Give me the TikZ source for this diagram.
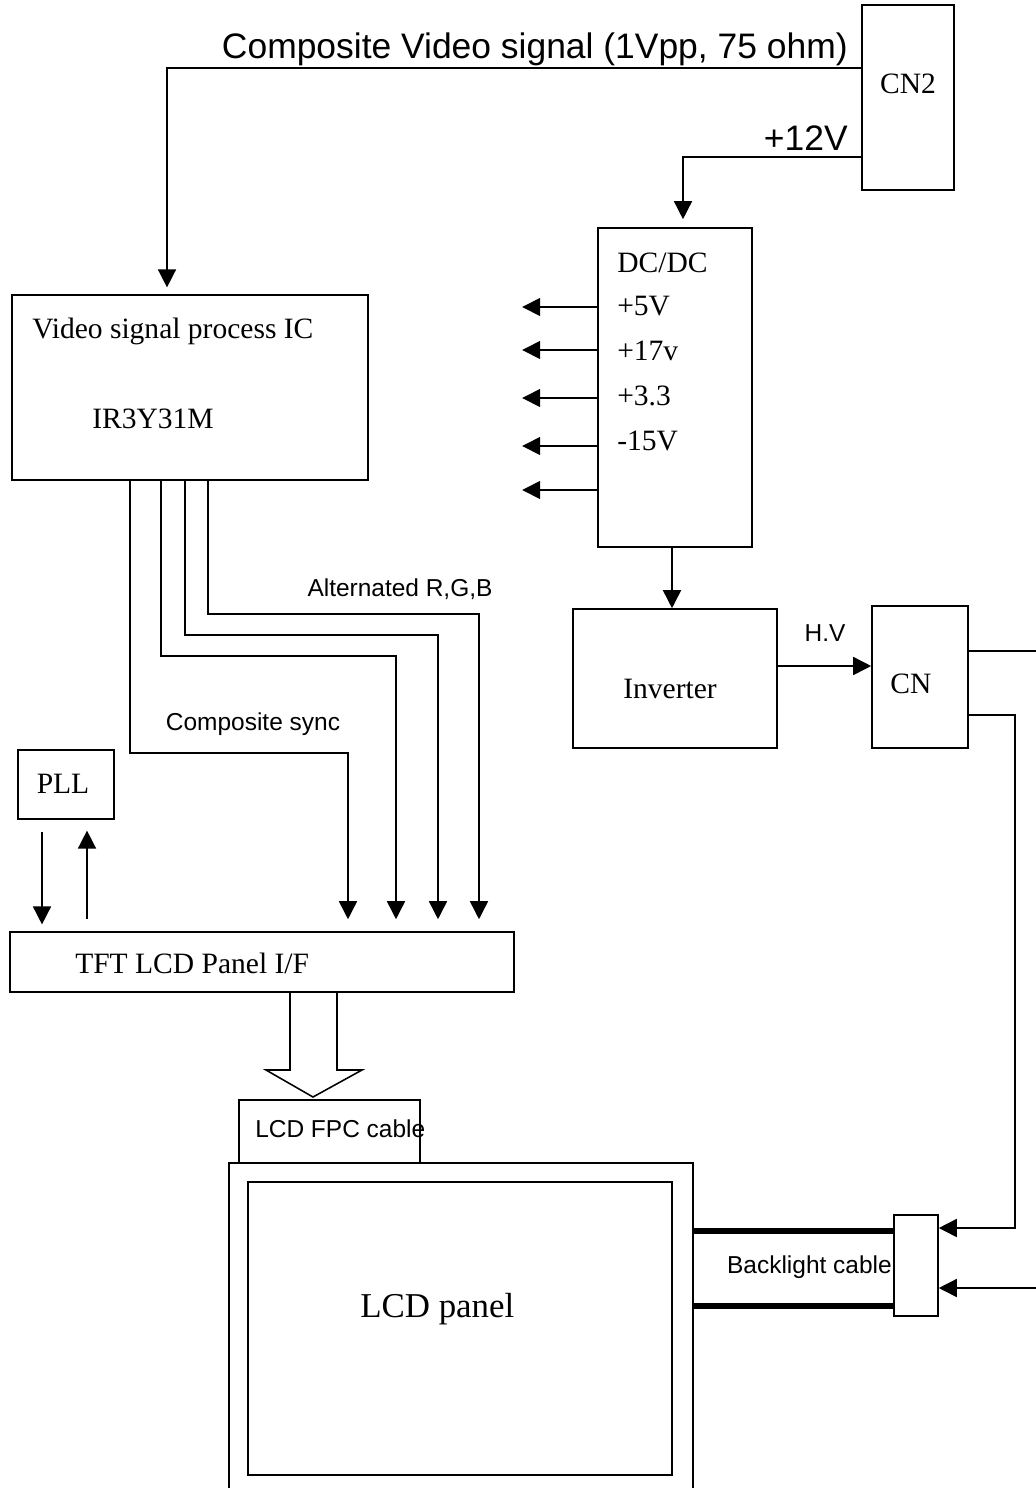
\documentclass[tikz,border=0pt]{standalone}
\usepackage{fontspec}
\setmainfont{Liberation Serif}
\setsansfont{Liberation Sans}
\usepackage{tikz}
\usetikzlibrary{arrows.meta, positioning, calc}
\tikzset{
	blk/.style   ={rectangle, draw=black, line width=1.1pt, inner sep=0pt},
	sig/.style   ={-{Triangle[length=0.45cm, width=0.45cm]}, line width=1.1pt},
	wire/.style  ={line width=1.1pt},
	cable/.style ={line width=3.6pt},
	rmtxt/.style ={font=\fontsize{21}{25}\selectfont, inner sep=0pt},
	bigtxt/.style={font=\fontsize{24.8}{29}\selectfont, inner sep=0pt},
	sftxt/.style ={font=\sffamily\fontsize{17.4}{20}\selectfont, inner sep=0pt},
	hdtxt/.style ={font=\sffamily\fontsize{25.2}{30}\selectfont, inner sep=0pt},
}

\begin{document}
\begin{tikzpicture}[x=0.025cm, y=-0.025cm]
	\useasboundingbox (0,0) rectangle (1036,1488);
	% ---- blocks ----
	\node[blk, minimum width=2.3cm, minimum height=4.625cm] (cn2) at (908,97.5) {};
	\node[blk, minimum width=8.9cm, minimum height=4.625cm] (vic) at (190,387.5) {};
	\node[blk, minimum width=3.85cm, minimum height=7.975cm] (dcdc) at (675,387.5) {};
	\node[blk, minimum width=5.1cm, minimum height=3.475cm] (inv) at (675,678.5) {};
	\node[blk, minimum width=2.4cm, minimum height=3.55cm] (cn) at (920,677) {};
	\node[blk, minimum width=2.4cm, minimum height=1.725cm] (pll) at (66,784.5) {};
	\node[blk, minimum width=12.6cm, minimum height=1.5cm] (tft) at (262,962) {};
	\node[blk, minimum width=4.525cm, minimum height=1.575cm] (fpc) at (329.5,1131.5) {};
	\node[blk, minimum width=11.6cm, minimum height=8.425cm] (lcdo) at (461,1331.5) {};
	\node[blk, minimum width=10.6cm, minimum height=7.325cm] (lcdi) at (460,1328.5) {};
	\node[blk, minimum width=1.1cm, minimum height=2.525cm] (blc) at (916,1265.5) {};
	% ---- block texts ----
	\node[rmtxt, anchor=base] (cn2txt) at (908,93) {CN2};
	\node[rmtxt, anchor=base west] (victxt) at (32,338) {Video signal process IC};
	\node[rmtxt, anchor=base west] (icname) at (92,428) {IR3Y31M};
	\node[rmtxt, anchor=base west] (dctxt) at (617,272) {DC/DC};
	\node[rmtxt, anchor=base west] (v5) at (617,315) {+5V};
	\node[rmtxt, anchor=base west] (v17) at (617,360) {+17v};
	\node[rmtxt, anchor=base west] (v33) at (617,405) {+3.3};
	\node[rmtxt, anchor=base west] (vm15) at (617,450) {-15V};
	\node[rmtxt, anchor=base] (invtxt) at (670,698) {Inverter};
	\node[rmtxt, anchor=base] (cntxt) at (911,693) {CN};
	\node[rmtxt, anchor=base] (plltxt) at (63,793) {PLL};
	\node[rmtxt, anchor=base west] (tfttxt) at (75,973) {TFT LCD Panel I/F};
	\node[sftxt, anchor=base west] (fpctxt) at (255,1137) {LCD FPC cable};
	\node[bigtxt, anchor=base west] (lcdtxt) at (360,1317) {LCD panel};
	% ---- signal labels ----
	\node[hdtxt, anchor=base east] (cvlbl) at (848,58) {Composite Video signal (1Vpp, 75 ohm)};
	\node[hdtxt, anchor=base east] (pwrlbl) at (848,150) {+12V};
	\node[sftxt, anchor=base] (hvlbl) at (825,641) {H.V};
	\node[sftxt, anchor=base] (rgblbl) at (400,596) {Alternated R,G,B};
	\node[sftxt, anchor=base] (synclbl) at (253,730) {Composite sync};
	\node[sftxt, anchor=base east] (bllbl) at (892,1273) {Backlight cable};
	% ---- connectors ----
	\draw[sig, shorten >=0.17cm] (cn2.west |- 0,68) -| (vic.north -| 167,0);
	\draw[sig, shorten >=0.2cm] (cn2.west |- 0,157) -| (dcdc.north -| 683,0);
	\foreach \y in {307,350,398,446,490}
		\draw[sig] (dcdc.west |- 0,\y) -- ++(-75,0);
	\draw[sig] (dcdc.south -| 672,0) -- (inv.north -| 672,0);
	\draw[sig] (inv.east |- 0,666) -- (cn.west |- 0,666);
	\coordinate (edgeA) at (1036,651);
	\coordinate (edgeB) at (1036,1288);
	\draw[wire] (cn.east |- edgeA) -- (edgeA);
	\draw[sig] (cn.east |- 0,715) -- ++(46,0) |- (blc.east |- 0,1228);
	\draw[sig] (edgeB) -- (blc.east |- edgeB);
	\draw[cable] (lcdo.east |- 0,1231) -- (blc.west |- 0,1231);
	\draw[cable] (lcdo.east |- 0,1306) -- (blc.west |- 0,1306);
	% IC outputs to panel I/F
	\foreach \a/\d/\b in {130/272/348, 161/175/396, 185/154/438, 208/133/479}
		\draw[sig, shorten >=0.3cm] (vic.south -| \a,0) -- ++(0,\d) -| (tft.north -| \b,0);
	\draw[sig, shorten <=0.3cm, shorten >=0.17cm] (pll.south -| 42,0) -- (tft.north -| 42,0);
	\draw[sig, shorten <=0.3cm, shorten >=0.27cm] (tft.north -| 87,0) -- (pll.south -| 87,0);
	% hollow arrow to FPC
	\draw[wire, line join=miter] (tft.south -| 290,0) -- (290,1070) -- (266,1070) -- (313,1097)
		-- (362,1070) -- (337,1070) -- (tft.south -| 337,0);
\end{tikzpicture}
\end{document}
